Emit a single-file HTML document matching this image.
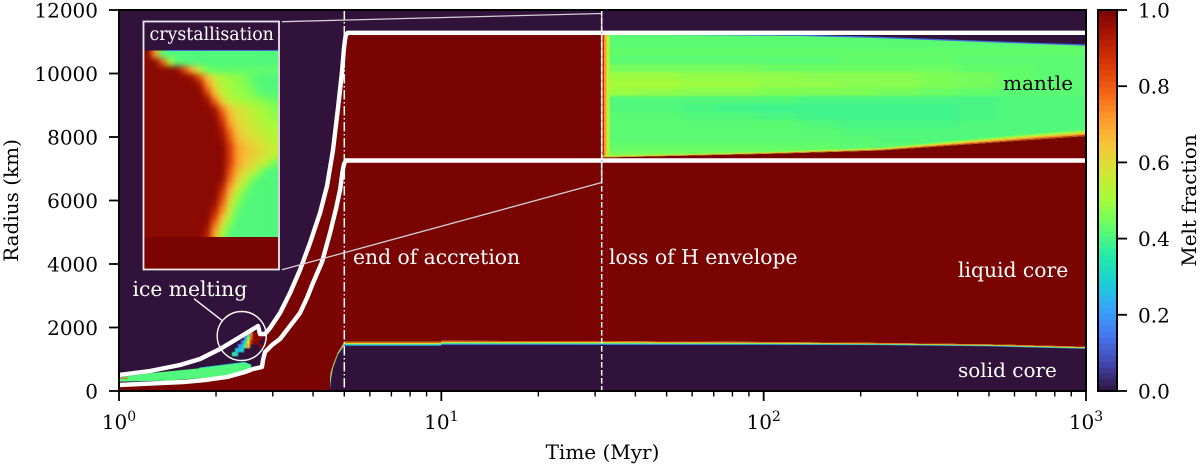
<!DOCTYPE html>
<html lang="en">
<head>
<meta charset="utf-8">
<title>Melt fraction over time</title>
<style>
  html, body { margin: 0; padding: 0; background: #fff; }
  svg { display: block; }
  text { font-family: "DejaVu Serif", "Liberation Serif", serif; }
</style>
</head>
<body>
<svg id="chart" xmlns="http://www.w3.org/2000/svg" width="1200" height="470" viewBox="0 0 1200 470">
  <defs>
    <filter id="blurMantle" x="-5%" y="-5%" width="110%" height="110%" color-interpolation-filters="sRGB"><feGaussianBlur stdDeviation="5 1.2"/></filter>
    <filter id="blurInset" x="-10%" y="-10%" width="120%" height="120%" color-interpolation-filters="sRGB"><feGaussianBlur stdDeviation="3"/></filter>
    <filter id="blurIce" x="-10%" y="-10%" width="120%" height="120%" color-interpolation-filters="sRGB"><feGaussianBlur stdDeviation="0.6"/></filter>
    <clipPath id="plotClip"><rect x="119" y="10" width="967" height="381"/></clipPath>
    <clipPath id="mantleClip"></clipPath>
    <clipPath id="insetClip"><rect x="144" y="50.5" width="134" height="186.5"/></clipPath>
  </defs>
  <rect x="119" y="10" width="967" height="381" fill="#30123b"/>
  <g id="heat" clip-path="url(#plotClip)"></g>
  <g id="inset"></g>
  <g id="lines" clip-path="url(#plotClip)"></g>

  <line x1="282" y1="21.7" x2="601.7" y2="13.5" stroke="#d4cfd6" stroke-width="1.3"/>
  <line x1="282" y1="269.7" x2="601.7" y2="182.5" stroke="#d4cfd6" stroke-width="1.3"/>
  <line x1="601.7" y1="13.5" x2="601.7" y2="182.5" stroke="#c9c3cc" stroke-width="1.6"/>
  <line x1="344.3" y1="10" x2="344.3" y2="391" stroke="#fff" stroke-width="1.5" stroke-dasharray="9.5 2.5 1.5 2.5"/>
  <line x1="601.7" y1="10" x2="601.7" y2="391" stroke="#fff" stroke-width="1.5" stroke-dasharray="5.6 2.4"/>

  <circle cx="241.7" cy="336" r="24.5" fill="none" stroke="#fff" stroke-width="1.4"/>
  <line x1="194" y1="298.7" x2="222.7" y2="321" stroke="#fff" stroke-width="1.4"/>

  <text x="132.5" y="296" font-size="20.3" fill="#fff">ice melting</text>
  <text x="149.5" y="40" font-size="17.4" fill="#fff">crystallisation</text>
  <text x="353" y="264" font-size="20.3" fill="#fff">end of accretion</text>
  <text x="609" y="264" font-size="20.3" fill="#fff">loss of H envelope</text>
  <text x="958" y="277" font-size="20.3" fill="#fff">liquid core</text>
  <text x="1003" y="90" font-size="20" fill="#000">mantle</text>
  <text x="958" y="377" font-size="20" fill="#fff">solid core</text>

  <g id="axes"></g>
  <rect x="119" y="10" width="967" height="381" fill="none" stroke="#000" stroke-width="2"/>

  <text x="602.5" y="459" font-size="20" text-anchor="middle" fill="#000">Time (Myr)</text>
  <text x="0" y="0" font-size="20" text-anchor="middle" fill="#000" transform="translate(18 200.5) rotate(-90)">Radius (km)</text>
  <g id="colorbar"></g>
  <text x="0" y="0" font-size="20" text-anchor="middle" fill="#000" transform="translate(1196 200.5) rotate(-90)">Melt fraction</text>
</svg>
<script>
/* ---------- axis data ---------- */
const xTickValues = [1, 10, 100, 1000];
const xTickExponents = ['0', '1', '2', '3'];
const xMinorValues = [2,3,4,5,6,7,8,9,20,30,40,50,60,70,80,90,200,300,400,500,600,700,800,900];
const yTickValues = [0, 2000, 4000, 6000, 8000, 10000, 12000];
const colorbarTicks = [0, 0.2, 0.4, 0.6, 0.8, 1];
const colorbarTickLabels = ['0.0', '0.2', '0.4', '0.6', '0.8', '1.0'];

/* ---------- boundary series (time in Myr, radius in km) ---------- */
const outerTimes = [1, 1.248, 1.546, 1.784, 2.058, 2.374, 2.70, 2.738, 2.838, 2.941, 3.159, 3.393, 3.643, 3.913, 4.204, 4.42, 4.613, 4.78, 4.918, 4.989, 5.045, 5.115, 1000];
const outerRadius = [504, 630, 819, 1008, 1323, 1701, 2047, 1795, 1795, 1984, 2457, 3087, 3812, 4661, 5607, 6457, 7590, 8913, 10047, 10803, 11181, 11280, 11280];
const innerTimes = [1, 1.248, 1.58, 1.848, 2.163, 2.46, 2.605, 2.777, 2.798, 2.838, 2.983, 3.159, 3.393, 3.643, 3.83, 3.998, 4.264, 4.515, 4.71, 4.85, 4.935, 4.989, 5.06, 1000];
const innerRadius = [189, 236, 283, 346, 441, 598, 693, 756, 976, 1228, 1449, 1638, 2047, 2457, 2929, 3402, 4063, 4976, 5732, 6331, 6898, 7150, 7260, 7260];

const mantleEdgeTimes = [31.4, 97, 130, 229, 404, 711, 1000];
const mantleTopRadius = [11250, 11215, 11200, 11135, 11040, 10945, 10895];
const mantleBottomRadius = [7354, 7465, 7500, 7575, 7748, 7927, 8031];
const mantleMushKm = [60, 70, 75, 90, 150, 190, 200];
const mantleMushMelt = [0.86, 0.72, 0.62, 0.53, 0.46];

const solidCoreTimes = [4.515, 4.55, 4.62, 4.78, 5, 9.99, 10, 31.5, 100, 229, 500, 1000];
const solidCoreRadius = [0, 346, 724, 1134, 1417, 1417, 1449, 1449, 1449, 1442, 1400, 1323];
const coreMushKm = [500, 300, 120, 90, 130, 130, 130, 120, 95, 70, 70, 70];
const coreMushMelt = [0.08, 0.18, 0.28, 0.38, 0.48, 0.58, 0.68, 0.78, 0.88];

/* ---------- early ice sliver ---------- */
const sliverTopTimes = [1, 1.24, 1.78, 2.45, 2.56];
const sliverTopRadius = [430, 560, 715, 892, 820];
const sliverBottomTimes = [2.56, 2.45, 2.07, 1.41, 1];
const sliverBottomRadius = [720, 660, 450, 325, 295];
const sliverMelt = 0.41;
const sliverEdgeMelt = 0.27;
const speckTimes = [1.01, 1.05];
const speckRadius = [385, 420];
const speckMelt = 0.8;

/* ---------- ice melting heatmap, -1 = no melt data ---------- */
const iceTimes = [2.24, 2.29, 2.34, 2.39, 2.44, 2.49, 2.55, 2.60, 2.66, 2.72, 2.78];
const iceRadii = [1850, 1725, 1600, 1475, 1350, 1225, 1100];
const iceMelt = [
  [-1, -1, -1, -1, -1, 0.3, 0.75, 0.98, 0.98, 0.98],
  [-1, -1, -1, -1, 0.2, 0.45, 0.8, 0.98, 0.98, 0.98],
  [-1, -1, -1, 0.15, 0.35, 0.6, 0.9, 0.98, 0.98, -1],
  [-1, -1, 0.2, 0.25, 0.4, 0.7, -1, -1, -1, 0.98],
  [-1, 0.3, 0.25, 0.3, -1, -1, -1, -1, -1, -1],
  [0.38, 0.3, -1, -1, -1, -1, -1, -1, -1, -1]
];

/* ---------- mantle heatmap: rows top to bottom, columns left to right (percent melt) ---------- */
const mantleTimes = [31.4, 32, 32.5, 33.2, 41.4, 55, 73, 97, 130, 172, 229, 304, 404, 536, 711, 1000];
const mantleRadii = [11370, 11055, 10803, 10551, 10299, 10047, 9795, 9543, 9291, 9039, 8787, 8535, 8283, 8031, 7842, 7653, 7496, 7339];
const mantleMeltPct = [
  [88,70,54, 42,42,42,42,42,42,42,41,41,41,41,41],
  [88,70,54, 42,42,42,42,42,42,42,42,42,42,42,43],
  [88,70,54, 43,43,43,43,43,43,43,43,43,43,43,43],
  [88,70,54, 42,42,42,42,42,42,43,43,43,42,42,42],
  [88,70,54, 45,45,45,45,44,44,44,44,44,43,43,42],
  [88,70,54, 49,49,48,48,48,47,47,47,46,45,43,42],
  [88,70,54, 50,50,49,49,48,48,47,47,46,45,43,42],
  [88,70,54, 49,48,47,47,46,46,46,45,44,43,42,42],
  [88,70,54, 41,41,41,41,41,40,40,40,40,40,41,41],
  [88,70,54, 41,41,40,39,39,39,39,39,39,40,41,41],
  [88,70,54, 42,42,41,41,40,39,39,39,39,40,41,41],
  [88,70,54, 42,42,42,42,42,41,40,40,40,41,41,41],
  [88,70,54, 42,42,42,42,42,42,41,41,41,41,41,41],
  [88,70,54, 42,42,42,42,42,42,42,41,41,41,41,42],
  [88,70,54, 43,43,43,43,43,43,42,42,42,42,42,42],
  [88,70,54, 44,44,44,44,44,44,44,43,43,43,43,43],
  [88,70,54, 47,47,46,46,46,46,46,44,44,44,44,44]
];

/* ---------- inset heatmap: 24 rows x 18 columns (percent melt) ---------- */
const insetMeltPct = [
  [98,72,42,41,41,41,41,41,41,41,41,41,41,41,41,41,41,41],
  [98,98,80,52,42,41,41,41,41,41,41,41,41,41,41,41,41,41],
  [98,98,98,98,97,82,68,54,45,43,43,43,43,43,43,43,43,43],
  [98,98,98,98,98,98,96,82,66,56,51,49,48,46,43,41,41,41],
  [98,98,98,98,98,98,98,95,74,60,52,50,48,47,44,42,41,41],
  [98,98,98,98,98,98,98,98,85,66,56,51,49,48,46,43,42,42],
  [98,98,98,98,98,98,98,98,96,78,62,54,52,50,49,48,46,44],
  [98,98,98,98,98,98,98,98,98,94,76,64,59,57,53,51,49,47],
  [98,98,98,98,98,98,98,98,98,97,84,68,60,58,55,52,50,48],
  [98,98,98,98,98,98,98,98,98,98,90,72,63,59,56,54,52,50],
  [98,98,98,98,98,98,98,98,98,98,94,78,65,60,58,56,53,52],
  [98,98,98,98,98,98,98,98,98,98,96,82,68,63,60,58,55,53],
  [98,98,98,98,98,98,98,98,98,98,98,86,72,66,63,60,58,55],
  [98,98,98,98,98,98,98,98,98,98,98,86,72,66,63,60,57,54],
  [98,98,98,98,98,98,98,98,98,98,98,86,72,65,60,57,52,45],
  [98,98,98,98,98,98,98,98,98,98,98,82,68,60,56,48,42,41],
  [98,98,98,98,98,98,98,98,98,98,97,78,64,55,47,42,41,41],
  [98,98,98,98,98,98,98,98,98,98,92,72,58,49,42,41,41,41],
  [98,98,98,98,98,98,98,98,98,98,86,66,52,44,41,41,41,41],
  [98,98,98,98,98,98,98,98,98,97,80,60,48,42,41,41,41,41],
  [98,98,98,98,98,98,98,98,98,92,74,56,44,41,41,41,41,41],
  [98,98,98,98,98,98,98,98,98,85,66,50,42,41,41,41,41,41],
  [98,98,98,98,98,98,98,98,96,76,58,46,41,41,41,41,41,41],
  [98,98,98,98,98,98,98,98,92,70,52,42,41,41,41,41,41,41]
];

/* ---------- colormap stops ---------- */
const turboStops = ['#30123b','#4145ab','#4675ed','#39a2fc','#1bcfd4','#24eca6','#61fc6c','#a4fc3b','#d1e834','#f3c63a','#fe9b2d','#f36315','#d93806','#b11901','#7a0402'];

/* ---------- scales ---------- */
const plotLeft = 119, plotRight = 1086, plotTop = 10, plotBottom = 391;
const xScale = t => plotLeft + Math.log10(t) / 3 * (plotRight - plotLeft);
const yScale = r => plotBottom - r / 12000 * (plotBottom - plotTop);
const insetLeft = 144, insetRight = 278, insetTop = 50.5, insetBottom = 237;
const insetX = c => insetLeft + c / insetMeltPct[0].length * (insetRight - insetLeft);
const insetY = r => insetTop + r / insetMeltPct.length * (insetBottom - insetTop);
const meltScale = m => plotBottom - m * (plotBottom - plotTop);

function hexRgb(h) {
  return [1, 3, 5].map(i => parseInt(h.slice(i, i + 2), 16));
}
function turbo(v) {
  const p = Math.max(0, Math.min(1, v)) * (turboStops.length - 1);
  const i = Math.min(Math.floor(p), turboStops.length - 2);
  const f = p - i;
  const a = hexRgb(turboStops[i]), b = hexRgb(turboStops[i + 1]);
  return 'rgb(' + a.map((x, k) => Math.round(x + (b[k] - x) * f)).join(',') + ')';
}
const NS = 'http://www.w3.org/2000/svg';
function mk(tag, attrs, parent) {
  const el = document.createElementNS(NS, tag);
  for (const k in attrs) el.setAttribute(k, attrs[k]);
  parent.appendChild(el);
  return el;
}
const pts = (times, radii) => times.map((t, i) => xScale(t).toFixed(2) + ',' + yScale(radii[i]).toFixed(2));

const heat = document.getElementById('heat');
const inset = document.getElementById('inset');
const linesG = document.getElementById('lines');
const axes = document.getElementById('axes');
const cbar = document.getElementById('colorbar');

/* ---------- liquid region ---------- */
const splitInner = innerTimes.filter(t => t <= 2.798).length;
const splitOuter = outerTimes.findIndex(t => t >= 2.838);
const lastOuter = outerTimes.length - 1;
const liquidPoints = []
  .concat(pts(innerTimes.slice(0, splitInner), innerRadius.slice(0, splitInner)))
  .concat(pts(outerTimes.slice(splitOuter, lastOuter), outerRadius.slice(splitOuter, lastOuter)))
  .concat(pts(mantleEdgeTimes, mantleTopRadius))
  .concat([xScale(1000) + ',' + yScale(0), xScale(1) + ',' + yScale(0)]);
const liquid = mk('polygon', { points: liquidPoints.join(' '), fill: turbo(1) }, heat);



/* ---------- solid core with mushy rainbow layer (overlapping strips avoid seams) ---------- */
coreMushMelt.forEach((m, s) => {
  const n = coreMushMelt.length;
  const up = solidCoreRadius.map((r, i) => r + coreMushKm[i]);
  const down = solidCoreRadius.map((r, i) => r + coreMushKm[i] * s / n);
  const p = pts(solidCoreTimes, up).concat(pts(solidCoreTimes, down).reverse());
  const strip = mk('polygon', { points: p.join(' '), fill: turbo(m) }, heat);
  
  
});
const corePts = pts(solidCoreTimes, solidCoreRadius).concat([xScale(1000) + ',' + yScale(0), xScale(solidCoreTimes[0]) + ',' + yScale(0)]);
const core = mk('polygon', { points: corePts.join(' '), fill: turbo(0) }, heat);



/* ---------- mantle heatmap ---------- */
const mantlePoly = pts(mantleEdgeTimes, mantleTopRadius).concat(pts(mantleEdgeTimes, mantleBottomRadius).reverse());
mk('polygon', { points: mantlePoly.join(' ') }, document.getElementById('mantleClip'));
const mantleClipped = mk('g', { 'clip-path': 'url(#mantleClip)' }, heat);


const mantleBase = mk('rect', { x: xScale(33.2), y: plotTop, width: plotRight - xScale(33.2), height: 200, fill: turbo(0.41) }, mantleClipped);


const mantleSoft = mk('g', { filter: 'url(#blurMantle)' }, mantleClipped);


const mantleSharp = mk('g', {}, mantleClipped);


mantleMeltPct.forEach((row, ri) => {
  row.forEach((v, ci) => {
    const x0 = xScale(mantleTimes[ci]) - (ci === 3 ? 14 : 0), x1 = xScale(mantleTimes[ci + 1]);
    const y0 = yScale(mantleRadii[ri]), y1 = yScale(mantleRadii[ri + 1]);
    const lastCol = ci === row.length - 1;
    const cell = mk('rect', {
      x: x0, y: y0,
      width: x1 - x0 + (lastCol ? 20 : 0.3),
      height: y1 - y0 + 0.3,
      fill: turbo(v / 100)
    }, ci < 3 ? mantleSharp : mantleSoft);
    
    
  });
});
mantleMushMelt.forEach((m, s) => {
  const n = mantleMushMelt.length;
  const low = mantleBottomRadius.map((r, i) => r + mantleMushKm[i] * s / n);
  const high = mantleBottomRadius.map((r, i) => r + mantleMushKm[i] * (s + 1) / n);
  const p = pts(mantleEdgeTimes, high).concat(pts(mantleEdgeTimes, low).reverse());
  const strip = mk('polygon', { points: p.join(' '), fill: turbo(m) }, mantleClipped);
  
  
});
const topEdge = mk('polyline', { points: pts(mantleEdgeTimes, mantleTopRadius).join(' '), fill: 'none', stroke: turbo(0.13), 'stroke-width': 1.3 }, heat);



/* ---------- ice sliver and ice melt cells ---------- */
const sliverPts = pts(sliverTopTimes, sliverTopRadius).concat(pts(sliverBottomTimes, sliverBottomRadius));
const sliverTip = mk('polygon', { points: sliverPts.slice(2, 7).join(' '), fill: turbo(sliverEdgeMelt), stroke: turbo(sliverEdgeMelt), 'stroke-width': 1.5, 'stroke-linejoin': 'round' }, heat);


const sliver = mk('polygon', { points: sliverPts.join(' '), fill: turbo(sliverMelt) }, heat);


const speck = mk('rect', {
  x: xScale(speckTimes[0]), y: yScale(speckRadius[1]),
  width: xScale(speckTimes[1]) - xScale(speckTimes[0]) + 2,
  height: yScale(speckRadius[0]) - yScale(speckRadius[1]),
  fill: turbo(speckMelt)
}, heat);


const iceGroup = mk('g', { filter: 'url(#blurIce)' }, heat);


iceMelt.forEach((row, ri) => {
  row.forEach((v, ci) => {
    if (v < 0) return;
    const cell = mk('rect', {
      x: xScale(iceTimes[ci]), y: yScale(iceRadii[ri]),
      width: xScale(iceTimes[ci + 1]) - xScale(iceTimes[ci]) + 0.2,
      height: yScale(iceRadii[ri + 1]) - yScale(iceRadii[ri]) + 0.2,
      fill: turbo(v)
    }, iceGroup);
    
    
  });
});

/* ---------- inset ---------- */
const insetLower = mk('rect', { x: 144, y: insetBottom, width: 134, height: 32, fill: turbo(1) }, inset);


const insetClipped = mk('g', { 'clip-path': 'url(#insetClip)' }, inset);


const insetSoft = mk('g', { filter: 'url(#blurInset)' }, insetClipped);


insetMeltPct.forEach((row, ri) => {
  row.forEach((v, ci) => {
    const firstC = ci === 0, lastC = ci === row.length - 1, firstR = ri === 0, lastR = ri === insetMeltPct.length - 1;
    const pad = 10;
    const x0 = insetX(ci) - (firstC ? pad : 0), x1 = insetX(ci + 1) + (lastC ? pad : 0.3);
    const y0 = insetY(ri) - (firstR ? pad : 0), y1 = insetY(ri + 1) + (lastR ? pad : 0.3);
    const cell = mk('rect', { x: x0, y: y0, width: x1 - x0, height: y1 - y0, fill: turbo(v / 100) }, insetSoft);
    
    
  });
});
const insetEdge = mk('line', { x1: insetX(3), y1: insetTop, x2: insetRight, y2: insetTop, stroke: turbo(0.14), 'stroke-width': 0.9 }, inset);


const insetFrame = mk('rect', { x: 143.5, y: 21.5, width: 135.5, height: 248, fill: 'none', stroke: '#ece9ee', 'stroke-width': 1.8 }, inset);



/* ---------- white boundary lines ---------- */
const outerLine = mk('polyline', { points: pts(outerTimes, outerRadius).join(' '), fill: 'none', stroke: '#fff', 'stroke-width': 4.4, 'stroke-linejoin': 'round' }, linesG);


const innerLine = mk('polyline', { points: pts(innerTimes, innerRadius).join(' '), fill: 'none', stroke: '#fff', 'stroke-width': 4.4, 'stroke-linejoin': 'round' }, linesG);



/* ---------- axes ---------- */
xTickValues.forEach((t, i) => {
  const tick = mk('line', { x1: xScale(t), x2: xScale(t), y1: plotBottom, y2: plotBottom + 10, stroke: '#000', 'stroke-width': 1.8 }, axes);
  
  
  const label = mk('text', { x: xScale(t), y: 429, 'font-size': 20, 'text-anchor': 'middle', fill: '#000' }, axes);
  
  
  label.appendChild(document.createTextNode('10'));
  const sup = mk('tspan', { dy: -8, 'font-size': 14 }, label);
  sup.textContent = xTickExponents[i];
});
xMinorValues.forEach(t => {
  const tick = mk('line', { x1: xScale(t), x2: xScale(t), y1: plotBottom, y2: plotBottom + 5.5, stroke: '#000', 'stroke-width': 1.4 }, axes);
  
  
});
yTickValues.forEach(r => {
  const tick = mk('line', { x1: plotLeft - 10, x2: plotLeft, y1: yScale(r), y2: yScale(r), stroke: '#000', 'stroke-width': 1.8 }, axes);
  
  
  const label = mk('text', { x: 98, y: yScale(r) + 7.5, 'font-size': 20, 'text-anchor': 'end', fill: '#000' }, axes);
  
  
  label.textContent = String(r);
});

/* ---------- colorbar ---------- */
const cbLeft = 1098, cbRight = 1117, cbSteps = 64;
for (let i = 0; i < cbSteps; i++) {
  const lo = i / cbSteps, hi = (i + 1) / cbSteps;
  const step = mk('rect', { x: cbLeft, y: meltScale(hi), width: cbRight - cbLeft, height: meltScale(lo) - meltScale(hi) + 0.4, fill: turbo((lo + hi) / 2) }, cbar);
  
  
}
const cbFrame = mk('rect', { x: cbLeft, y: plotTop, width: cbRight - cbLeft, height: plotBottom - plotTop, fill: 'none', stroke: '#000', 'stroke-width': 2 }, cbar);


colorbarTicks.forEach((m, i) => {
  const tick = mk('line', { x1: cbRight, x2: cbRight + 10, y1: meltScale(m), y2: meltScale(m), stroke: '#000', 'stroke-width': 1.8 }, cbar);
  
  
  const label = mk('text', { x: 1138, y: meltScale(m) + 7.5, 'font-size': 20, fill: '#000' }, cbar);
  
  
  label.textContent = colorbarTickLabels[i];
});
</script>
</body>
</html>
